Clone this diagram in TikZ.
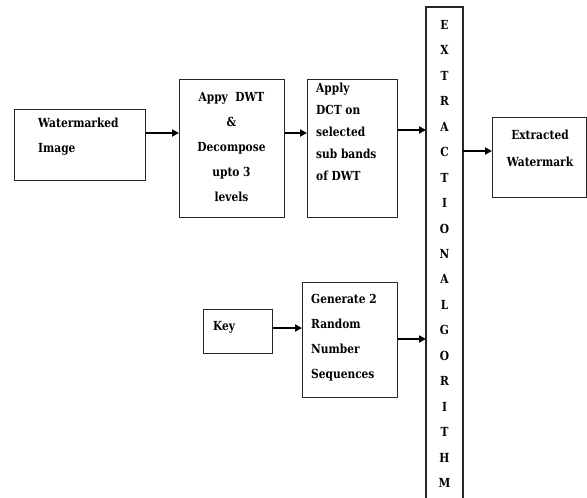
\documentclass[tikz,border=0pt]{standalone}
\usepackage{fontspec}
\setmainfont{DejaVu Serif}[FakeStretch=0.85]
\usetikzlibrary{arrows.meta}
\begin{document}
\begin{tikzpicture}[x=1pt,y=-1pt,
  box/.style={draw=black!85, line width=1.3pt},
  txt/.style={font=\fontsize{12.5}{25}\selectfont\bfseries, inner sep=0pt},
  arr/.style={line width=2pt, -{Triangle[length=7pt,width=7pt]}}]
\useasboundingbox (0,0) rectangle (587,498);
% boxes
\node[box, minimum width=131pt, minimum height=71pt, anchor=north west, inner sep=0pt] (wm) at (14,109) {};
\node[box, minimum width=105pt, minimum height=138pt, anchor=north west, inner sep=0pt] (dwt) at (179,79) {};
\node[box, minimum width=90pt, minimum height=138pt, anchor=north west, inner sep=0pt] (dct) at (307,79) {};
\node[box, minimum width=94pt, minimum height=80pt, anchor=north west, inner sep=0pt] (ext) at (492,117) {};
\node[box, minimum width=69pt, minimum height=44pt, anchor=north west, inner sep=0pt] (key) at (203,309) {};
\node[box, minimum width=95pt, minimum height=115pt, anchor=north west, inner sep=0pt] (gen) at (302,282) {};
% extraction bar (open at the bottom)
\coordinate (bartl) at (426,7);
\coordinate (bartr) at (463,7);
\coordinate (barbl) at (426,505);
\coordinate (barbr) at (463,505);
\draw[box] (barbl) -- (bartl) -- (bartr) -- (barbr);
% texts
\node[txt, align=left, anchor=west] (twm) at (38,137) {Watermarked\\Image};
\node[txt, align=center] (tdwt) at (231.5,147) {Appy~~DWT\\\&\\Decompose\\upto 3\\levels};
\node[txt, font=\fontsize{12.5}{22}\selectfont\bfseries, align=left, anchor=west] (tdct) at (316,131.5) {Apply\\DCT on\\selected\\sub bands\\of DWT};
\node[txt, font=\fontsize{12.5}{27}\selectfont\bfseries, align=center] (text) at (540,148.5) {Extracted\\Watermark};
\node[txt, anchor=west] (tkey) at (213,327) {Key};
\node[txt, align=left, anchor=west] (tgen) at (311,337.5) {Generate 2\\Random\\Number\\Sequences};
\foreach \c [count=\i from 0] in {E,X,T,R,A,C,T,I,O,N,A,L,G,O,R,I,T,H,M}{
  \node[txt] (l\i) at (444.5,{25+25.44*\i}) {\c};
}
% arrows
\draw[arr] (wm.east |- 0,133) -- (dwt.west |- 0,133);
\draw[arr] (dwt.east |- 0,133) -- (dct.west |- 0,133);
\draw[arr] (dct.east |- 0,130) -- (bartl |- 0,130);
\draw[arr] (bartr |- 0,151) -- (ext.west |- 0,151);
\draw[arr] (key.east |- 0,328) -- (gen.west |- 0,328);
\draw[arr] (gen.east |- 0,339) -- (bartl |- 0,339);
\end{tikzpicture}
\end{document}
